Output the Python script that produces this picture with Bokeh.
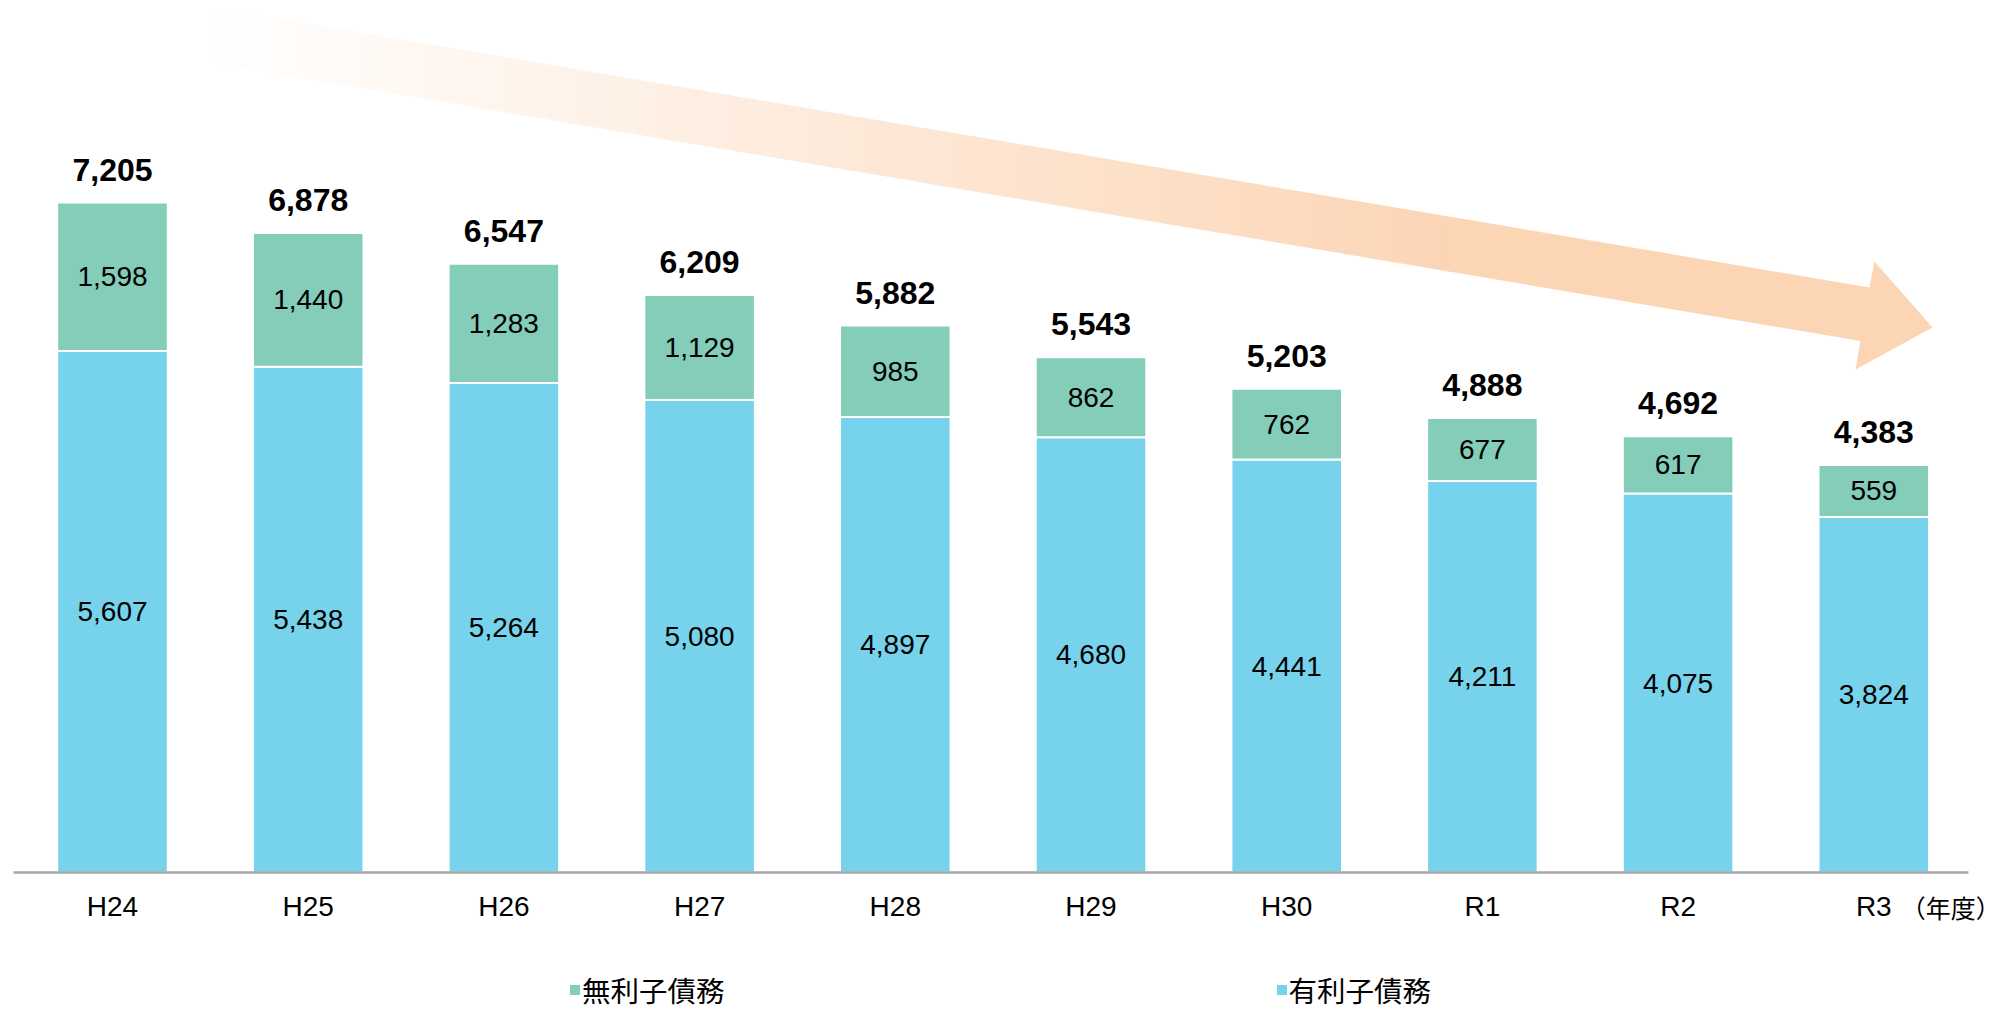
from bokeh.plotting import figure
from bokeh.models import (ColumnDataSource, Range1d, Legend, LegendItem, FixedTicker)
from bokeh.core.properties import value
from bokeh.embed import file_html
from bokeh.resources import INLINE

# ---------------- data ----------------
categories = ["H24", "H25", "H26", "H27", "H28", "H29", "H30", "R1", "R2", "R3"]
interest_bearing = [5607, 5438, 5264, 5080, 4897, 4680, 4441, 4211, 4075, 3824]   # 有利子債務
non_interest = [1598, 1440, 1283, 1129, 985, 862, 762, 677, 617, 559]              # 無利子債務
totals = [7205, 6878, 6547, 6209, 5882, 5543, 5203, 4888, 4692, 4383]
series_names = ["無利子債務", "有利子債務"]
unit_label = "（年度）"

# ---------------- style / layout ----------------
BLUE = "#76D3EB"
GREEN = "#84CDB9"
PEACH = (252, 213, 181)
NUM_FONT = "Liberation Sans"
JP_FONT = "Noto Sans CJK JP"

W, H = 2002, 1011
BASE_Y = 872          # pixel row of the value 0 baseline
PX_PER_UNIT = 670 / 7205.0
SLOT = 195.7          # px per category
FIRST_X = 112         # px centre of first category
AXIS_L, AXIS_R = 13, 1968

x = list(range(len(categories)))
src = ColumnDataSource(dict(
    x=x,
    cat=categories,
    ib_top=interest_bearing,
    ni_top=[a + b for a, b in zip(interest_bearing, non_interest)],
    ib_mid=[a / 2 for a in interest_bearing],
    ni_mid=[a + b / 2 for a, b in zip(interest_bearing, non_interest)],
    ib_lbl=[f"{v:,}" for v in interest_bearing],
    ni_lbl=[f"{v:,}" for v in non_interest],
    tot=totals,
    tot_lbl=[f"{v:,}" for v in totals],
))

x0 = -FIRST_X / SLOT
x1 = x0 + W / SLOT
y0 = -(H - BASE_Y) / PX_PER_UNIT
y1 = BASE_Y / PX_PER_UNIT

p = figure(width=W, height=H, output_backend="svg", toolbar_location=None,
           x_range=Range1d(x0, x1), y_range=Range1d(y0, y1),
           min_border=0, min_border_left=0, min_border_right=0,
           min_border_top=0, min_border_bottom=0,
           y_axis_location=None, outline_line_color=None)
p.grid.visible = False
p.background_fill_color = "white"
p.border_fill_color = "white"

# pixel-space ranges for the decorative arrow
p.extra_x_ranges = {"px": Range1d(0, W)}
p.extra_y_ranges = {"px": Range1d(H, 0)}

# ---------------- decorative gradient arrow ----------------
k = 282 / 1671.0
def y_top(px):
    return 5 + (px - 198) * k
def y_bot(px):
    return 60 + (px - 198) * k

g0, g1 = 195.0, 1450.0
N = 140
dx = (g1 - g0) / N
xs, ys, cols = [], [], []
for i in range(N):
    xa = g0 + i * dx
    xb = xa + dx + 0.6
    a = min(1.0, max(0.0, (xa + dx / 2 - 198) / (g1 - 198)))
    r, g, b = [round(255 * (1 - a) + c * a) for c in PEACH]
    xs.append([xa, xb, xb, xa])
    ys.append([y_top(xa), y_top(xb), y_bot(xb), y_bot(xa)])
    cols.append(f"#{r:02x}{g:02x}{b:02x}")
peach_hex = "#%02x%02x%02x" % PEACH
xs.append([g1, 1869, 1874, 1932, 1855, 1860, g1])
ys.append([y_top(g1), y_top(1869), 261, 327, 369, y_bot(1860), y_bot(g1)])
cols.append(peach_hex)
p.patches(xs=xs, ys=ys, fill_color=cols, line_color=None,
          x_range_name="px", y_range_name="px")

# ---------------- stacked bars ----------------
BW = 0.565
r_ib = p.vbar(x="x", bottom=0, top="ib_top", width=BW, source=src,
              fill_color=BLUE, line_color="white", line_width=2)
r_ni = p.vbar(x="x", bottom="ib_top", top="ni_top", width=BW, source=src,
              fill_color=GREEN, line_color="white", line_width=2)

# labels inside bars
p.text(x="x", y="ib_mid", text="ib_lbl", source=src, text_align="center",
       text_baseline="middle", text_font=value(NUM_FONT), text_font_size="28px",
       text_color="#000000")
p.text(x="x", y="ni_mid", text="ni_lbl", source=src, text_align="center",
       text_baseline="middle", text_font=value(NUM_FONT), text_font_size="28px",
       text_color="#000000")
# totals
p.text(x="x", y="tot", text="tot_lbl", source=src, text_align="center",
       text_baseline="alphabetic", y_offset=-33, text_font=value(NUM_FONT),
       text_font_size="32px", text_font_style="bold", text_color="#000000")

# ---------------- axis (fixed at value 0) ----------------
ax = p.xaxis[0]
ax.fixed_location = 0
ax.bounds = ((AXIS_L - FIRST_X) / SLOT, (AXIS_R - FIRST_X) / SLOT)
ax.ticker = FixedTicker(ticks=x)
ax.major_label_overrides = {i: c for i, c in zip(x, categories)}
ax.major_tick_line_color = None
ax.minor_tick_line_color = None
ax.major_tick_out = 0
ax.major_tick_in = 0
ax.axis_line_color = "#A6A6A6"
ax.axis_line_width = 2.5
ax.major_label_standoff = 18
ax.major_label_text_font = NUM_FONT
ax.major_label_text_font_size = "28px"
ax.major_label_text_color = "#000000"

# unit label to the right of the last category
p.text(x=[x[-1]], y=[0], text=[unit_label], x_offset=127, y_offset=34,
       text_align="right", text_baseline="middle", text_font=value(JP_FONT),
       text_font_size="25px", text_color="#000000")

# ---------------- legend ----------------
legend = Legend(items=[LegendItem(label=series_names[0], renderers=[r_ni]),
                       LegendItem(label=series_names[1], renderers=[r_ib])],
                orientation="horizontal", location=(567, 1), spacing=549,
                glyph_width=15, glyph_height=15, label_standoff=0,
                label_text_font=JP_FONT, label_text_font_size="28.5px",
                label_text_color="#000000", border_line_color=None,
                background_fill_alpha=0, padding=0, margin=0)
p.add_layout(legend, "center")

open("out.html", "w").write(file_html(p, INLINE))
